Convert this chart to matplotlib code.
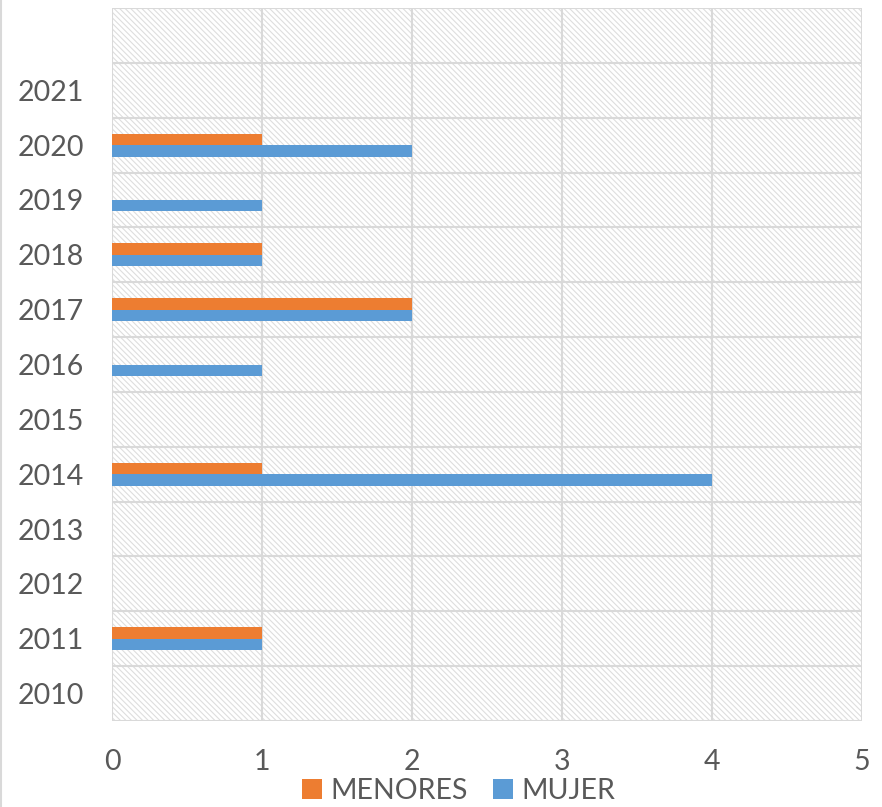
import matplotlib
matplotlib.use("Agg")
import matplotlib.pyplot as plt
import numpy as np

categories = ["2010", "2011", "2012", "2013", "2014", "2015", "2016",
              "2017", "2018", "2019", "2020", "2021", ""]
menores = [0, 1, 0, 0, 1, 0, 0, 2, 1, 0, 1, 0, 0]
mujer = [0, 1, 0, 0, 4, 0, 1, 2, 1, 1, 2, 0, 0]
xticks = [0, 1, 2, 3, 4, 5]

plt.rcParams['font.family'] = ['Lato', 'DejaVu Sans']
plt.rcParams['hatch.color'] = '#dedede'
plt.rcParams['hatch.linewidth'] = 0.8

fig = plt.figure(figsize=(8.82, 8.07), dpi=100)
ax = fig.add_axes([112/882, 1-721/807, 750/882, 713/807])

y = np.arange(len(categories))
h = 0.21
# hatched background
ax.axvspan(0, 5, facecolor='white', hatch='\\\\\\\\\\\\', edgecolor='#dedede', linewidth=0, zorder=0)

ax.barh(y - h/2, mujer, height=h, color='#5b9bd5', label='MUJER', zorder=3)
ax.barh(y + h/2, menores, height=h, color='#ed7d31', label='MENORES', zorder=3)

ax.set_xlim(0, 5)
ax.set_ylim(-0.5, len(categories) - 0.5)
ax.set_xticks(xticks)
ax.set_xticklabels([str(t) for t in xticks])
ax.set_yticks(y)
ax.set_yticklabels(categories)
for v in xticks:
    ax.axvline(v, color='#d9d9d9', lw=1.5, zorder=1)
for b in np.arange(-0.5, len(categories), 1):
    ax.axhline(b, color='#d9d9d9', lw=1.5, zorder=1)
for s in ax.spines.values():
    s.set_visible(False)
ax.tick_params(axis='y', length=0, labelsize=20.5, colors='#595959', pad=20)
ax.tick_params(axis='x', length=0, labelsize=20.5, colors='#595959', pad=20)

handles, labels = ax.get_legend_handles_labels()
leg = fig.legend(handles[::-1], labels[::-1], loc='lower center', ncol=2, frameon=False,
                 bbox_to_anchor=(0.52, -0.028), fontsize=20.5, handlelength=0.7, handleheight=0.7,
                 handletextpad=0.3, columnspacing=0.9)
for t in leg.get_texts():
    t.set_color('#595959')

fig.add_artist(plt.Line2D([1/882, 1/882], [0, 1], color='#d9d9d9', lw=1.5, transform=fig.transFigure))
fig.savefig('out.png', dpi=100)
